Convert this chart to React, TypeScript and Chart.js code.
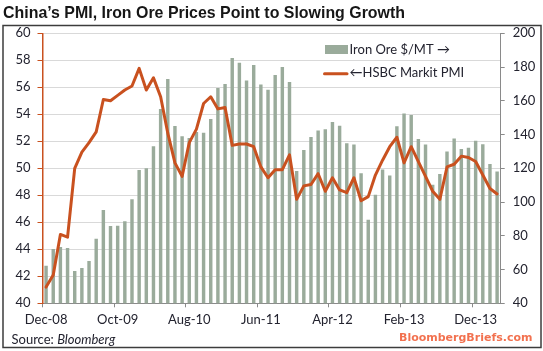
import React, { useEffect, useRef } from "react";
import { Chart, registerables } from "chart.js";

Chart.register(...registerables);

const categories = [
  "Dec-08", "Jan-09", "Feb-09", "Mar-09", "Apr-09", "May-09", "Jun-09", "Jul-09", "Aug-09", "Sep-09",
  "Oct-09", "Nov-09", "Dec-09", "Jan-10", "Feb-10", "Mar-10", "Apr-10", "May-10", "Jun-10", "Jul-10",
  "Aug-10", "Sep-10", "Oct-10", "Nov-10", "Dec-10", "Jan-11", "Feb-11", "Mar-11", "Apr-11", "May-11",
  "Jun-11", "Jul-11", "Aug-11", "Sep-11", "Oct-11", "Nov-11", "Dec-11", "Jan-12", "Feb-12", "Mar-12",
  "Apr-12", "May-12", "Jun-12", "Jul-12", "Aug-12", "Sep-12", "Oct-12", "Nov-12", "Dec-12", "Jan-13",
  "Feb-13", "Mar-13", "Apr-13", "May-13", "Jun-13", "Jul-13", "Aug-13", "Sep-13", "Oct-13", "Nov-13",
  "Dec-13", "Jan-14", "Feb-14", "Mar-14",
];

const ironOre = [
  62.3, 72.2, 73.4, 72.8, 59.2, 60.9, 65.1, 78.3, 95.3, 85.8,
  86.0, 88.6, 101.6, 119.0, 120.0, 133.0, 155.2, 172.9, 145.1, 139.0,
  138.0, 141.5, 141.0, 149.2, 167.6, 170.0, 185.4, 182.6, 172.1, 181.2,
  169.7, 166.6, 175.3, 180.0, 171.2, 118.4, 130.9, 138.6, 142.4, 143.1,
  147.5, 145.2, 134.9, 134.1, 117.1, 89.5, 104.4, 119.3, 115.7, 144.9,
  152.5, 151.6, 137.4, 134.1, 110.3, 116.6, 129.9, 137.6, 131.5, 132.2,
  136.4, 134.3, 122.6, 118.1,
];

const pmi = [
  41.2, 42.1, 45.1, 44.9, 50.0, 51.2, 51.9, 52.7, 55.1, 55.0,
  55.4, 55.8, 56.1, 57.4, 55.8, 56.7, 55.3, 52.6, 50.4, 49.4,
  51.9, 52.9, 54.8, 55.3, 54.4, 54.5, 51.7, 51.8, 51.8, 51.6,
  50.1, 49.3, 49.9, 49.9, 51.0, 47.7, 48.7, 48.8, 49.6, 48.3,
  49.3, 48.4, 48.2, 49.3, 47.6, 47.9, 49.5, 50.6, 51.6, 52.3,
  50.4, 51.6, 50.5, 49.4, 48.3, 47.7, 50.1, 50.3, 50.9, 50.8,
  50.5, 49.5, 48.5, 48.1,
];

const labelEvery = 10;
const pmiRange = [40, 60, 2];
const oreRange = [40, 200, 20];

const titleText = "China’s PMI, Iron Ore Prices Point to Slowing Growth";
const oreLegend = "Iron Ore $/MT →";
const pmiLegend = "←HSBC Markit PMI";
const sourcePrefix = "Source: ";
const sourceName = "Bloomberg";
const siteText = "BloombergBriefs.com";

const W = 543;
const H = 351;
const AREA = { left: 42.5, right: 500.7, top: 33.3, bottom: 303.3 };

const BAR = "#9aab9b";
const LINE = "#c9511f";
const AXIS_GRAY = "#8a8a8a";
const GRID = "#d9d9d9";
const TEXT = "#23232f";
const FONT = "Lato, 'Open Sans', sans-serif";

const decorPlugin = {
  id: "decor",
  afterDraw(chart: any) {
    const ctx = chart.ctx as CanvasRenderingContext2D;
    ctx.save();
    // frame
    ctx.strokeStyle = "#3c3c3c";
    ctx.lineWidth = 1.5;
    ctx.strokeRect(3, 25.5, 538, 322);
    // title
    ctx.fillStyle = "#161616";
    ctx.textAlign = "left";
    ctx.textBaseline = "alphabetic";
    ctx.font = "bold 17px 'Liberation Sans', Arial, sans-serif";
    ctx.fillText(titleText, 3, 17.5, 402);
    // legend
    ctx.fillStyle = BAR;
    ctx.fillRect(325, 45, 23, 9);
    ctx.strokeStyle = LINE;
    ctx.lineWidth = 3;
    ctx.lineCap = "round";
    ctx.beginPath();
    ctx.moveTo(324.5, 73.7);
    ctx.lineTo(347, 73.7);
    ctx.stroke();
    ctx.fillStyle = TEXT;
    ctx.textBaseline = "middle";
    ctx.font = `13px ${FONT}`;
    ctx.fillText(oreLegend, 349.5, 50);
    ctx.fillText(pmiLegend, 349.5, 72.8);
    // source
    ctx.font = `13px ${FONT}`;
    ctx.fillText(sourcePrefix, 11.5, 340);
    const w = ctx.measureText(sourcePrefix).width;
    ctx.font = `italic 13px ${FONT}`;
    ctx.fillText(sourceName, 11.5 + w, 340);
    // site
    ctx.fillStyle = "#f2714f";
    ctx.font = "bold 11px 'DejaVu Sans', Verdana, sans-serif";
    ctx.fillText(siteText, 399, 338, 134);
    ctx.restore();
  },
};

export default function App() {
  const ref = useRef<HTMLCanvasElement | null>(null);

  useEffect(() => {
    if (!ref.current) return;
    const tickFont = { family: FONT, size: 13 };
    const chart = new Chart(ref.current, {
      type: "bar",
      data: {
        labels: categories,
        datasets: [
          {
            type: "line",
            label: pmiLegend,
            data: pmi,
            yAxisID: "y",
            borderColor: LINE,
            backgroundColor: LINE,
            borderWidth: 3,
            pointRadius: 0,
            tension: 0,
            borderJoinStyle: "round",
            borderCapStyle: "round",
            order: 0,
          } as any,
          {
            type: "bar",
            label: oreLegend,
            data: ironOre,
            yAxisID: "y2",
            backgroundColor: BAR,
            barPercentage: 0.48,
            categoryPercentage: 1,
            order: 1,
          } as any,
        ],
      },
      options: {
        responsive: false,
        animation: false,
        devicePixelRatio: 1,
        layout: { padding: { top: AREA.top, left: 0, right: 0, bottom: 0 } },
        plugins: {
          legend: { display: false },
          title: { display: false },
          tooltip: { enabled: false },
        },
        scales: {
          x: {
            type: "category",
            offset: true,
            grid: {
              offset: true,
              drawOnChartArea: false,
              drawTicks: true,
              tickLength: 4,
              tickColor: (c: any) => (c.index % labelEvery === 0 ? AXIS_GRAY : "rgba(0,0,0,0)"),
            },
            border: { color: AXIS_GRAY, width: 1 },
            ticks: {
              autoSkip: false,
              maxRotation: 0,
              minRotation: 0,
              padding: 5,
              color: TEXT,
              font: tickFont,
              callback: (_v: any, i: number) => (i % labelEvery === 0 ? categories[i] : ""),
            },
            afterFit: (s: any) => {
              s.height = H - AREA.bottom;
            },
          },
          y: {
            position: "left",
            min: pmiRange[0],
            max: pmiRange[1],
            ticks: { stepSize: pmiRange[2], padding: 7, color: TEXT, font: tickFont },
            grid: { color: GRID, lineWidth: 1, tickLength: 5, tickColor: LINE, drawTicks: true },
            border: { color: LINE, width: 1.5 },
            afterFit: (s: any) => {
              s.width = AREA.left;
            },
          },
          y2: {
            position: "right",
            min: oreRange[0],
            max: oreRange[1],
            ticks: { stepSize: oreRange[2], padding: 8, color: TEXT, font: tickFont },
            grid: { drawOnChartArea: false, tickLength: 4, tickColor: AXIS_GRAY, drawTicks: true },
            border: { color: AXIS_GRAY, width: 1 },
            afterFit: (s: any) => {
              s.width = W - AREA.right;
            },
          },
        },
      },
      plugins: [decorPlugin],
    });
    return () => chart.destroy();
  }, []);

  return (
    <div style={{ position: "fixed", left: 0, top: 0, width: W, height: H, background: "#fff" }}>
      <canvas ref={ref} width={W} height={H} style={{ width: W, height: H, display: "block" }} />
    </div>
  );
}
